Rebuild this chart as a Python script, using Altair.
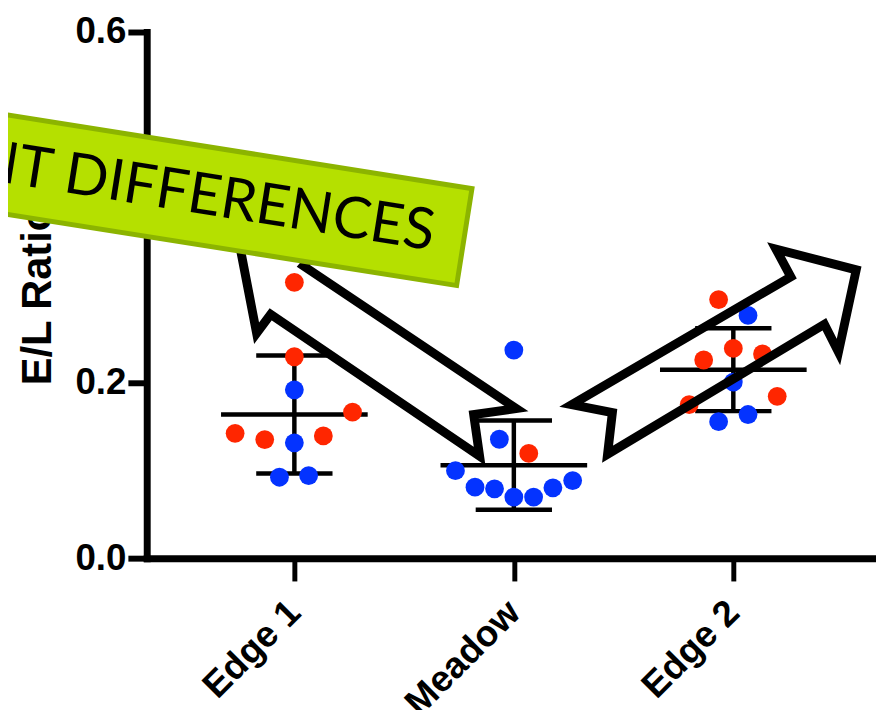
import altair as alt
import pandas as pd

# ---------------- data ----------------
categories = ["Edge 1", "Meadow", "Edge 2"]

edge1_values = [0.3145, 0.2297, 0.192, 0.1665, 0.1424, 0.1352, 0.1315, 0.1394, 0.0923, 0.0942]
edge1_jitter = [0, 0, 0, 0.265, -0.270, -0.135, 0, 0.132, -0.068, 0.065]
edge1_colors = ["red", "red", "blue", "red", "red", "red", "blue", "red", "blue", "blue"]

meadow_values = [0.2373, 0.1356, 0.1194, 0.0998, 0.081, 0.0791, 0.0697, 0.0697, 0.0802, 0.0885]
meadow_jitter = [0, -0.066, 0.068, -0.266, -0.177, -0.088, 0, 0.090, 0.178, 0.268]
meadow_colors = ["blue", "blue", "red", "blue", "blue", "blue", "blue", "blue", "blue", "blue"]

edge2_values = [0.2949, 0.2768, 0.2392, 0.226, 0.2328, 0.2008, 0.1845, 0.1751, 0.1556, 0.1638]
edge2_jitter = [-0.067, 0.067, 0, -0.135, 0.133, 0, 0.200, -0.201, -0.067, 0.067]
edge2_colors = ["red", "blue", "red", "red", "red", "blue", "red", "red", "blue", "blue"]

y_ticks = [0.0, 0.2, 0.4, 0.6]

# annotation outlines (data units: x = category index, y = E/L ratio)
arrow_left_x = [0.747, 0.828, 0.892, 1.844, 1.817, 2.011, 1.041, 1.144, 0.747, 0.828]
arrow_left_y = [0.3616, 0.2565, 0.2780, 0.1164, 0.1638, 0.1706, 0.3333, 0.3638, 0.3616, 0.2565]
arrow_right_x = [2.264, 2.449, 2.427, 3.415, 3.479, 3.560, 3.194, 3.262, 2.264, 2.449]
arrow_right_y = [0.1751, 0.1661, 0.1186, 0.2667, 0.2350, 0.3288, 0.3525, 0.3209, 0.1751, 0.1661]

banner_x = [-0.4553]
banner_y = [0.4546]
banner_text = ["SIGNIFICANT DIFFERENCES"]
banner_text_x = [1.6366]
banner_text_y = [0.3701]

RED = "#ff2600"
BLUE = "#0433ff"

# ---------------- tables ----------------
rows = []
for gi, (vals, jit, cols) in enumerate(
    [(edge1_values, edge1_jitter, edge1_colors),
     (meadow_values, meadow_jitter, meadow_colors),
     (edge2_values, edge2_jitter, edge2_colors)], start=1):
    for v, j, c in zip(vals, jit, cols):
        rows.append({"gidx": gi, "group": categories[gi - 1], "jitter": j, "value": v, "col": c})
df = pd.DataFrame(rows)

arrows = pd.DataFrame(
    [{"arrow": "left", "ord": i, "ax": x, "ay": y} for i, (x, y) in enumerate(zip(arrow_left_x, arrow_left_y))]
    + [{"arrow": "right", "ord": i, "ax": x, "ay": y} for i, (x, y) in enumerate(zip(arrow_right_x, arrow_right_y))]
)
banner = pd.DataFrame({"bx": banner_x, "by": banner_y})
btext = pd.DataFrame({"tx": banner_text_x, "ty": banner_text_y, "label": banner_text})

XDOM = [0.3273, 3.6501]
YDOM = [0, 0.6]
xscale = alt.Scale(domain=XDOM, nice=False, zero=False)
yscale = alt.Scale(domain=YDOM, nice=False, zero=False)

label_expr = " : ".join(
    [f"datum.value == {i + 1} ? '{c}'" for i, c in enumerate(categories[:-1])]
) + f" : '{categories[-1]}'"

xaxis = alt.Axis(values=[1, 2, 3], labelExpr=label_expr, title=None, grid=False,
                 labelAngle=-45, labelAlign="right", labelBaseline="middle",
                 labelFont="Liberation Sans", labelFontWeight="bold", labelFontSize=37,
                 labelColor="black", labelPadding=26, tickSize=23, tickWidth=5,
                 tickColor="black", domainColor="black", domainWidth=7, domainCap="square",
                 labelOverlap=False, labelFlush=False)
yaxis = alt.Axis(values=y_ticks, format=".1f", title="E/L Ratio", grid=False,
                 labelFont="Liberation Sans", labelFontWeight="bold", labelFontSize=37,
                 labelColor="black", labelPadding=2, tickSize=19, tickWidth=6,
                 tickColor="black", domainColor="black", domainWidth=7, domainCap="square",
                 titleFont="Liberation Sans", titleFontWeight="bold", titleFontSize=42,
                 titleColor="black", titleAngle=-90, titleAlign="center",
                 titleBaseline="middle", titleX=-110, titleY=265.5,
                 labelOverlap=False, labelFlush=False)

base = alt.Chart(df)

stats = base.transform_aggregate(
    mean="mean(value)", sd="stdev(value)", groupby=["gidx"]
).transform_calculate(lo="datum.mean - datum.sd", hi="datum.mean + datum.sd")

sd_rule = stats.mark_rule(color="black", strokeWidth=4.5).encode(
    x=alt.X("gidx:Q", scale=xscale, axis=xaxis),
    y=alt.Y("lo:Q", scale=yscale, axis=yaxis),
    y2="hi:Q",
)
caps = stats.transform_fold(["lo", "hi"], as_=["end", "endval"]).mark_tick(
    color="black", orient="horizontal", size=77, thickness=4.5, opacity=1
).encode(
    x=alt.X("gidx:Q", scale=xscale, axis=xaxis),
    y=alt.Y("endval:Q", scale=yscale, axis=yaxis),
)
mean_line = stats.mark_tick(
    color="black", orient="horizontal", size=148, thickness=4.5, opacity=1
).encode(
    x=alt.X("gidx:Q", scale=xscale, axis=xaxis),
    y=alt.Y("mean:Q", scale=yscale, axis=yaxis),
)

points = base.transform_calculate(pos="datum.gidx + datum.jitter").mark_circle(
    size=360, opacity=1
).encode(
    x=alt.X("pos:Q", scale=xscale, axis=xaxis),
    y=alt.Y("value:Q", scale=yscale, axis=yaxis),
    color=alt.Color("col:N", scale=alt.Scale(domain=["red", "blue"], range=[RED, BLUE]), legend=None),
)

arrow_lines = alt.Chart(arrows).mark_line(
    color="black", strokeWidth=9, strokeJoin="miter", strokeMiterLimit=20, strokeCap="butt"
).encode(
    x=alt.X("ax:Q", scale=xscale, axis=xaxis),
    y=alt.Y("ay:Q", scale=yscale, axis=yaxis),
    detail="arrow:N",
    order="ord:Q",
)

banner_shape = alt.Chart(banner).mark_point(
    shape="M-1,-0.099L1,-0.099L1,0.099L-1,0.099Z", size=1000000, angle=9,
    filled=True, fill="#b5e000", stroke="#8cb400", strokeWidth=5, opacity=1, fillOpacity=1,
).encode(
    x=alt.X("bx:Q", scale=xscale, axis=xaxis),
    y=alt.Y("by:Q", scale=yscale, axis=yaxis),
)

banner_label = alt.Chart(btext).mark_text(
    angle=9, align="right", baseline="middle", font="Lato", fontSize=58,
    fontWeight="normal", color="black",
).encode(
    x=alt.X("tx:Q", scale=xscale, axis=xaxis),
    y=alt.Y("ty:Q", scale=yscale, axis=yaxis),
    text="label:N",
)

chart = alt.layer(
    sd_rule, caps, mean_line, points, arrow_lines, banner_shape, banner_label
).properties(
    width=736, height=531,
    autosize=alt.AutoSizeParams(type="none"),
    padding={"left": 140, "top": 21, "right": 0, "bottom": 150},
    background="white",
).configure_view(stroke=None)

chart.save("out.html", embed_options={"renderer": "svg", "actions": False})
